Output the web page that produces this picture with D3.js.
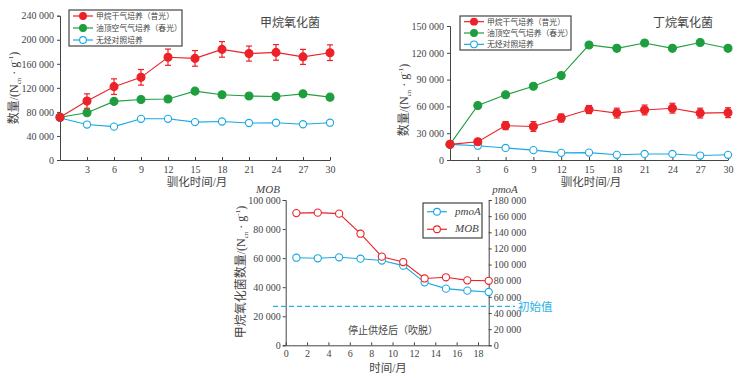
<!DOCTYPE html>
<html>
<head>
<meta charset="utf-8">
<script src="https://cdn.jsdelivr.net/npm/d3@7"></script>
<style>
  body { margin: 0; background: #fff; }
  svg text { font-family: "Liberation Serif", "DejaVu Serif", "Noto Sans CJK SC", serif; fill: #444; }
</style>
</head>
<body>
<svg id="chart" width="753" height="379"></svg>
<script>
// ---- data ----
var months = [0, 3, 6, 9, 12, 15, 18, 21, 24, 27, 30];
var seriesNames = ["甲烷干气培养（昔光）", "油顶空气气培养（春光）", "无烃对照培养"];

// methane oxidizing bacteria
var mobRed = [71000, 98000, 122000, 137500, 171000, 169000, 184000, 177000, 179000, 171500, 178500];
var mobRedErr = [0, 12000, 13000, 13000, 13500, 13000, 13000, 12500, 13000, 12500, 13000];
var mobGreen = [71000, 78500, 97500, 100500, 101500, 114500, 108500, 106500, 105500, 110000, 104500];
var mobBlue = [70000, 59000, 55500, 68500, 68500, 63000, 64000, 61500, 62000, 59500, 62000];

// butane oxidizing bacteria
var bobRed = [17500, 20500, 38500, 37500, 47000, 56500, 52500, 56000, 58000, 52500, 53000];
var bobRedErr = [0, 2500, 4500, 5500, 4500, 4500, 5500, 5500, 5500, 5500, 5500];
var bobGreen = [17500, 61000, 73000, 82500, 94500, 128800, 125000, 131000, 125000, 131500, 125000];
var bobBlue = [17500, 16000, 13500, 11000, 8000, 8300, 5800, 6800, 6800, 5000, 5800];

// after stopping gas supply
var stopMonths = [1, 3, 5, 7, 9, 11, 13, 15, 17, 19];
var stopMOB = [91000, 91300, 90600, 76800, 61000, 57300, 46000, 46800, 44700, 44400];
var stopPmoA = [108500, 107800, 109000, 107300, 105000, 98700, 78000, 70200, 67700, 66000];
var initialMOB = 26800;

var colors = ["#ec2228", "#1e9e3e", "#1aa8e2"];
var serif = "'Liberation Serif', 'DejaVu Serif', 'Noto Sans CJK SC', serif";

var canvas = d3.select("#chart");
var locale = d3.formatLocale({decimal: ".", thousands: " ", grouping: [3], currency: ["", ""]});
var fmt = locale.format(",d");

function yLabel(g, x, y, pre) {
  var t = g.append("text")
    .attr("transform", "translate(" + x + "," + y + ") rotate(-90)")
    .style("text-anchor", "middle")
    .style("font-family", serif)
    .style("font-size", "12px");
  t.append("tspan").text(pre + "/(N");
  t.append("tspan").attr("dy", 3).style("font-size", "7px").text("cn");
  t.append("tspan").attr("dy", -3).text(" · g");
  t.append("tspan").attr("dy", -5).style("font-size", "7px").text("-1");
  t.append("tspan").attr("dy", 5).text(")");
}

function styleAxis(sel) {
  sel.attr("font-family", null);
  sel.selectAll("path, line").attr("stroke", "#444");
  sel.selectAll("text").style("font-size", "10px").style("font-family", serif).attr("fill", "#444");
}

function drawSeries(g, x, y, xs, vals, col, filled, err) {
  var line = d3.line().x(function(d, i) { return x(xs[i]); }).y(function(d) { return y(d); });
  if (err) {
    vals.forEach(function(v, i) {
      if (!err[i]) return;
      var cx = x(xs[i]);
      g.append("line").attr("x1", cx).attr("x2", cx).attr("y1", y(v - err[i])).attr("y2", y(v + err[i]))
        .attr("stroke", col).attr("stroke-width", 1.2);
      [v - err[i], v + err[i]].forEach(function(e) {
        g.append("line").attr("x1", cx - 3).attr("x2", cx + 3).attr("y1", y(e)).attr("y2", y(e))
          .attr("stroke", col).attr("stroke-width", 1.2);
      });
    });
  }
  g.append("path").datum(vals).attr("d", line).attr("fill", "none").attr("stroke", col).attr("stroke-width", 1.1);
  g.selectAll(null).data(vals).enter().append("circle")
    .attr("cx", function(d, i) { return x(xs[i]); })
    .attr("cy", function(d) { return y(d); })
    .attr("r", filled ? 4 : 3.6)
    .attr("fill", filled ? col : "#fff")
    .attr("stroke", col).attr("stroke-width", 1.1);
}

function legendBox(g, x0, y0, w, h, names, cols, filled, italic) {
  g.append("rect").attr("x", x0).attr("y", y0).attr("width", w).attr("height", h)
    .attr("fill", "#fff").attr("stroke", "#444").attr("stroke-width", 1.2);
  var step = h / names.length;
  names.forEach(function(n, i) {
    var cy = y0 + step * (i + 0.5);
    g.append("line").attr("x1", x0 + 4).attr("x2", x0 + 24).attr("y1", cy).attr("y2", cy)
      .attr("stroke", cols[i]).attr("stroke-width", 1.2);
    g.append("circle").attr("cx", x0 + 14).attr("cy", cy).attr("r", 3.4)
      .attr("fill", filled[i] ? cols[i] : "#fff").attr("stroke", cols[i]).attr("stroke-width", 1.1);
    g.append("text").attr("x", x0 + (italic ? 32 : 27)).attr("y", cy + 3)
      .style("font-size", italic ? "11px" : "7.8px")
      .style("font-style", italic ? "italic" : "normal")
      .text(n);
  });
}

function growthChart(opts) {
  var g = canvas.append("g");
  var x = d3.scaleLinear().domain([0, 30]).range([opts.x0, opts.x1]);
  var y = d3.scaleLinear().domain([0, opts.ymax]).range([160, opts.ytop]);

  g.append("g").attr("transform", "translate(" + opts.x0 + ",0)")
    .call(d3.axisLeft(y).tickValues(d3.range(0, opts.ymax + 1, opts.ystep)).tickFormat(fmt).tickSize(3).tickPadding(3))
    .call(styleAxis);
  g.append("g").attr("transform", "translate(0,160)")
    .call(d3.axisBottom(x).tickValues(months.slice(1)).tickSize(-3).tickPadding(6).tickSizeOuter(0))
    .call(styleAxis);

  drawSeries(g, x, y, months, opts.blue, colors[2], false);
  drawSeries(g, x, y, months, opts.green, colors[1], true);
  drawSeries(g, x, y, months, opts.red, colors[0], true, opts.err);

  legendBox(g, opts.lx, opts.ly, opts.lw, opts.lh, seriesNames, colors, [true, true, false], false);

  g.append("text").attr("x", opts.tx).attr("y", 27).style("text-anchor", "middle")
    .style("font-size", "12px").text(opts.title);
  g.append("text").attr("x", (opts.x0 + opts.x1) / 2 + 2).attr("y", 186).style("text-anchor", "middle")
    .style("font-size", "11.5px").text("驯化时间/月");
  yLabel(g, opts.labx, opts.laby, "数量");
}

growthChart({x0: 60, x1: 330, ytop: 15.7, ymax: 240000, ystep: 40000,
  red: mobRed, err: mobRedErr, green: mobGreen, blue: mobBlue,
  lx: 69, ly: 10, lw: 113, lh: 36, tx: 290, title: "甲烷氧化菌", labx: 18, laby: 88});

growthChart({x0: 450, x1: 728, ytop: 26, ymax: 150000, ystep: 30000,
  red: bobRed, err: bobRedErr, green: bobGreen, blue: bobBlue,
  lx: 460, ly: 16, lw: 111, lh: 34, tx: 683, title: "丁烷氧化菌", labx: 408, laby: 100});

// ---- bottom chart ----
var g3 = canvas.append("g");
var x3 = d3.scaleLinear().domain([0, 19]).range([285.7, 488.7]);
var yL = d3.scaleLinear().domain([0, 100000]).range([345.3, 200]);
var yR = d3.scaleLinear().domain([0, 180000]).range([345.3, 200]);

g3.append("g").attr("transform", "translate(285.7,0)")
  .call(d3.axisLeft(yL).tickValues(d3.range(0, 100001, 20000)).tickFormat(fmt).tickSize(3).tickPadding(2))
  .call(styleAxis);
g3.append("g").attr("transform", "translate(488.7,0)")
  .call(d3.axisRight(yR).tickValues(d3.range(0, 180001, 20000)).tickFormat(fmt).tickSize(3).tickPadding(2))
  .call(styleAxis);
g3.append("g").attr("transform", "translate(0,345.3)")
  .call(d3.axisBottom(x3).tickValues(d3.range(0, 19, 2)).tickSize(-3).tickPadding(5).tickSizeOuter(0))
  .call(styleAxis);

g3.append("line").attr("x1", 273).attr("x2", 515).attr("y1", yL(initialMOB)).attr("y2", yL(initialMOB))
  .attr("stroke", "#27b2e6").attr("stroke-width", 1.2).attr("stroke-dasharray", "5,3");
g3.append("text").attr("x", 518).attr("y", yL(initialMOB) + 4.5).style("font-size", "11.5px")
  .style("fill", "#27b2e6").text("初始值");

drawSeries(g3, x3, yR, stopMonths, stopPmoA, colors[2], false);
drawSeries(g3, x3, yL, stopMonths, stopMOB, colors[0], false);

legendBox(g3, 423, 203, 59, 35, ["pmoA", "MOB"], [colors[2], colors[0]], [false, false], true);

g3.append("text").attr("x", 393).attr("y", 334).style("text-anchor", "middle")
  .style("font-size", "10px").text("停止供烃后（吹脱）");
g3.append("text").attr("x", 388).attr("y", 372).style("text-anchor", "middle")
  .style("font-size", "11.5px").text("时间/月");
g3.append("text").attr("x", 268).attr("y", 193).style("text-anchor", "middle")
  .style("font-size", "11px").style("font-style", "italic").text("MOB");
g3.append("text").attr("x", 505).attr("y", 193).style("text-anchor", "middle")
  .style("font-size", "11px").style("font-style", "italic").text("pmoA");
yLabel(g3, 245, 272, "甲烷氧化菌数量");
</script>
</body>
</html>
